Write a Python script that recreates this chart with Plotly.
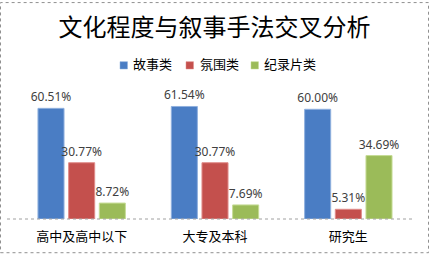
import plotly.graph_objects as go

categories = ["高中及高中以下", "大专及本科", "研究生"]
series_names = ["故事类", "氛围类", "纪录片类"]
story = [60.51, 61.54, 60.00]
atmosphere = [30.77, 30.77, 5.31]
documentary = [8.72, 7.69, 34.69]
colors = ["#4a7dc4", "#c4504d", "#9bbb59"]
edge_colors = ["#8fb0de", "#e08c8a", "#c6dc96"]

W, H = 429, 257
ml, mr, mt, mb = 15, 14, 91, 35
pw, ph = W - ml - mr, H - mt - mb

def px_x(p):
    return (p - ml) / pw

def px_y(p):
    return 1 - (p - mt) / ph

fig = go.Figure()
for name, vals, c, ec in zip(series_names, [story, atmosphere, documentary], colors, edge_colors):
    fig.add_trace(go.Bar(
        x=categories, y=vals, name=name,
        marker=dict(color=c, line=dict(color=ec, width=1)),
        text=[f"{v:.2f}%" for v in vals], textposition="outside",
        textfont=dict(family="Noto Sans", size=12, color="#404040"),
        constraintext="none",
        cliponaxis=False,
        showlegend=False,
    ))

# legend drawn as swatches + text (layout only)
legend_sq_x = [120, 186, 251]
legend_txt_x = [130.5, 197.5, 261.5]
shapes = [
    dict(type="rect", xref="paper", yref="paper",
         x0=px_x(0.5), x1=px_x(W - 0.5), y0=px_y(H - 0.5), y1=px_y(0.5),
         line=dict(color="#909090", width=1, dash="dot")),
    dict(type="line", xref="paper", yref="paper",
         x0=px_x(7), x1=px_x(413), y0=0, y1=0,
         line=dict(color="#a0a0a0", width=1, dash="dot")),
]
annotations = []
for name, c, ec, sx, tx in zip(series_names, colors, edge_colors, legend_sq_x, legend_txt_x):
    shapes.append(dict(type="rect", xref="paper", yref="paper",
                       x0=px_x(sx), x1=px_x(sx + 7.5), y0=px_y(68.5), y1=px_y(61),
                       fillcolor=c, line=dict(color=ec, width=0.5)))
    annotations.append(dict(text=name, xref="paper", yref="paper",
                            x=px_x(tx), y=px_y(63), xanchor="left", yanchor="middle",
                            showarrow=False,
                            font=dict(family="Noto Sans CJK SC", size=13, color="#000000")))

fig.update_layout(
    width=W, height=H,
    margin=dict(l=ml, r=mr, t=mt, b=mb),
    paper_bgcolor="white", plot_bgcolor="white",
    barmode="group", bargap=0.31, bargroupgap=0.15,
    title=dict(text="文化程度与叙事手法交叉分析", x=0.5, xanchor="center",
               y=1 - 28 / H, yanchor="middle",
               font=dict(family="Noto Sans CJK SC", size=24, color="#000000")),
    showlegend=False,
    xaxis=dict(showline=False, ticks="", showgrid=False, ticklabelstandoff=8,
               tickfont=dict(family="Noto Sans CJK SC", size=13, color="#000000")),
    yaxis=dict(range=[0, 70], visible=False, showgrid=False),
    shapes=shapes,
    annotations=annotations,
)

fig.write_html("out.html")
